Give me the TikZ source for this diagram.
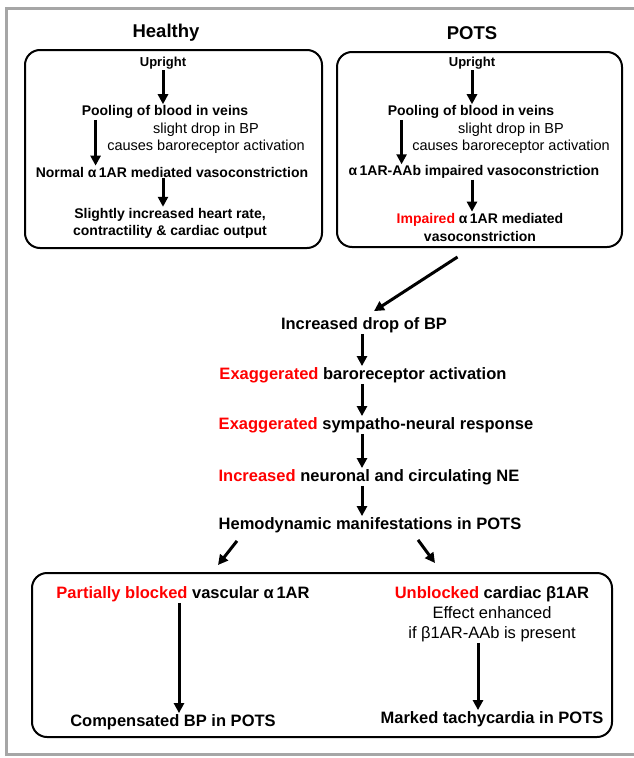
\documentclass[tikz,border=0pt]{standalone}
\usepackage{fontspec}
\setmainfont{Liberation Sans}
\usetikzlibrary{positioning, arrows.meta}

\begin{document}
\begin{tikzpicture}[
    x=1pt, y=-1pt,
    boxtxt/.style={font=\fontsize{14}{17}\selectfont\bfseries, align=center, inner sep=1pt},
    boxnote/.style={font=\fontsize{14.5}{17}\selectfont, align=center, inner sep=1pt},
    chain/.style={font=\fontsize{16.5}{19}\selectfont\bfseries, align=center, inner sep=1pt},
    bignote/.style={font=\fontsize{16.5}{20}\selectfont, align=center, inner sep=1pt},
    heading/.style={font=\fontsize{18.5}{22}\selectfont\bfseries, inner sep=1pt},
    panel/.style={draw, line width=2pt, rounded corners=15pt},
    flow/.style={line width=3pt, -{Triangle[width=10pt,length=10pt]}}
]
\newcommand{\hl}[1]{\textcolor{red}{#1}}

\useasboundingbox (0,0) rectangle (634,758);
% grey frame
\draw[black!35, line width=3pt] (634,8) -- (6,8) -- (6,754) -- (634,754);

% Panels
\node[panel, minimum width=297pt, minimum height=198pt] (hbox) at (173.5,149) {};
\node[panel, minimum width=285pt, minimum height=195pt] (pbox) at (479.5,149.5) {};
\node[panel, minimum width=580pt, minimum height=164pt] (bbox) at (322,655) {};

% Healthy
\node[heading] (htitle) at (166,33) {Healthy};
\node[boxtxt, font=\fontsize{13}{16}\selectfont\bfseries] (hup) at (163,63) {Upright};
\node[boxtxt] (hpool) at (165,112) {Pooling of blood in veins};
\node[boxnote] (hdrop) at (206,138) {slight drop in BP\\causes baroreceptor activation};
\node[boxtxt] (hnorm) at (172,172) {Normal α\,1AR mediated vasoconstriction};
\node[boxtxt] (hout) at (170,223) {Slightly increased heart rate,\\contractility \& cardiac output};

% POTS
\node[heading] (ptitle) at (472,33) {POTS};
\node[boxtxt, font=\fontsize{13}{16}\selectfont\bfseries] (pup) at (472,63) {Upright};
\node[boxtxt] (ppool) at (471,112) {Pooling of blood in veins};
\node[boxnote] (pdrop) at (511,138) {slight drop in BP\\causes baroreceptor activation};
\node[boxtxt] (paab) at (474,172) {α\,1AR-AAb impaired vasoconstriction};
\node[boxtxt, font=\fontsize{14}{18}\selectfont\bfseries] (pimp) at (480,227) {\hl{Impaired} α\,1AR mediated\\vasoconstriction};

% Common pathway
\node[chain] (drop) at (364,325) {Increased drop of BP};
\node[chain] (baro) at (363,375) {\hl{Exaggerated} baroreceptor activation};
\node[chain] (symp) at (376,425) {\hl{Exaggerated} sympatho-neural response};
\node[chain] (ne) at (369,477) {\hl{Increased} neuronal and circulating NE};
\node[chain] (hemo) at (370,525) {Hemodynamic manifestations in POTS};

% Bottom panel
\node[chain] (alpha) at (183,594) {\hl{Partially blocked} vascular α\,1AR};
\node[chain] (comp) at (173,722) {Compensated BP in POTS};
\node[chain] (beta) at (492,594) {\hl{Unblocked} cardiac β1AR};
\node[bignote] (enh) at (492,624) {Effect enhanced\\if β1AR-AAb is present};
\node[chain] (tachy) at (492,719) {Marked tachycardia in POTS};

% Arrows
\draw[flow] (hup.south) -- (hup.south |- hpool.north);
\draw[flow] ([xshift=15pt]hpool.south west) -- ([xshift=15pt]hpool.south west |- hnorm.north);
\draw[flow] (hnorm.south -| hup) -- (hout.north -| hup);

\draw[flow] (pup.south) -- (pup.south |- ppool.north);
\draw[flow] ([xshift=15pt]ppool.south west) -- ([xshift=15pt]ppool.south west |- paab.north);
\draw[flow] (paab.south -| pup) -- (pimp.north -| pup);

\draw[flow] ([shift={(-22pt,-9pt)}]pbox.south) -- ([shift={(10pt,5pt)}]drop.north);
\draw[flow] ([xshift=-2pt]drop.south) -- ([xshift=-2pt]drop.south |- baro.north);
\draw[flow] ([xshift=-2pt]drop.south |- baro.south) -- ([xshift=-2pt]drop.south |- symp.north);
\draw[flow] ([xshift=-2pt]drop.south |- symp.south) -- ([xshift=-2pt]drop.south |- ne.north);
\draw[flow] ([xshift=-2pt]drop.south |- ne.south) -- ([xshift=-2pt]drop.south |- hemo.north);

\draw[flow] ([shift={(-133pt,-7pt)}]hemo.south) -- ([shift={(-104pt,7pt)}]bbox.north);
\draw[flow] ([shift={(48pt,-6pt)}]hemo.south) -- ([shift={(113pt,9pt)}]bbox.north);

\draw[flow] ([xshift=-4pt]alpha.south) -- ([xshift=-4pt]alpha.south |- comp.north);
\draw[flow] ([xshift=-14pt]enh.south) -- ([xshift=-14pt]enh.south |- tachy.north);

\end{tikzpicture}
\end{document}
